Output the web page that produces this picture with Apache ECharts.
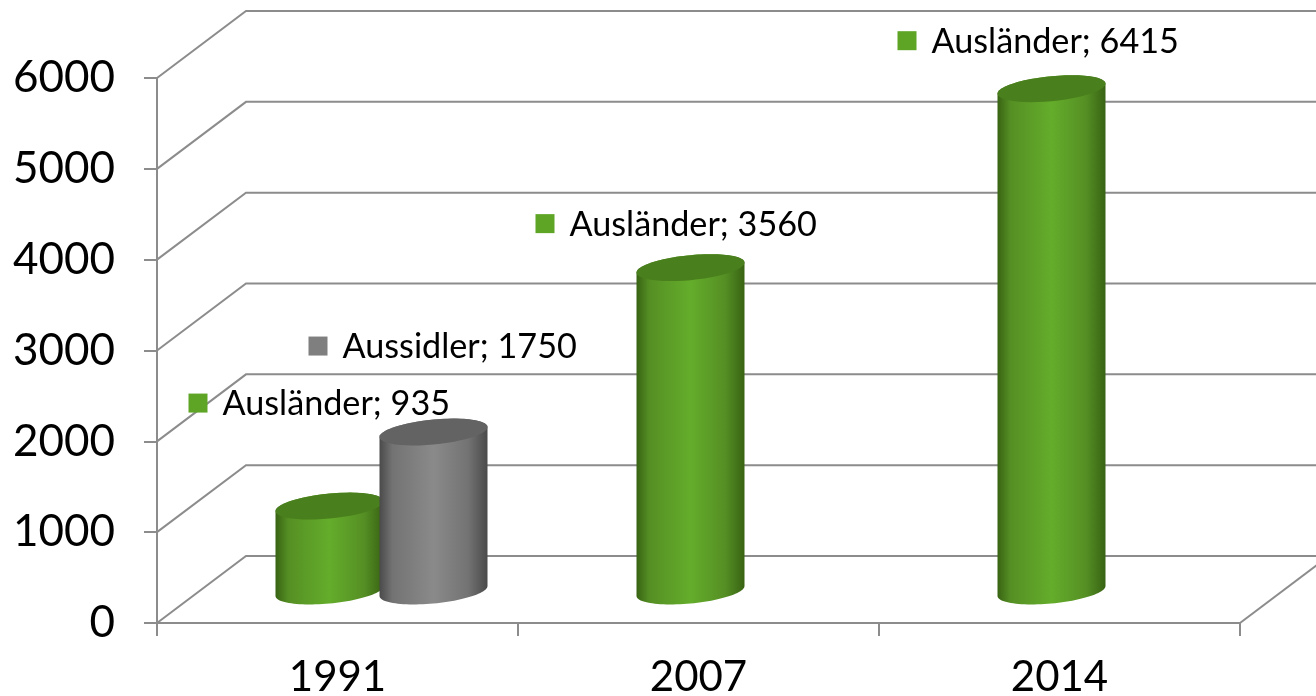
<!DOCTYPE html>
<html><head><meta charset="utf-8">
<style>html,body{margin:0;padding:0;background:#fff}#c{width:1316px;height:696px}</style>
<script src="https://cdn.jsdelivr.net/npm/echarts@6/dist/echarts.min.js"></script>
</head><body><div id="c"></div>
<script>
const categories = ['1991', '2007', '2014'];
const yTicks = [0, 1000, 2000, 3000, 4000, 5000, 6000];
// Values printed on the labels
const auslaenderValues = [935, 3560, 6415];
const aussiedlerValues = [1750, null, null];
// Column heights (the 2014 column stands lower than its printed value)
const auslaenderHeights = [935, 3560, 5530];
const aussiedlerHeights = [1750, null, null];

const FONT = 'Lato';
const AXIS = '#8c8c8c';
const DEPTH_X = 89, DEPTH_Y = -67;
const BAR_A = 54, BAR_B = 12.5, BAR_S = 5, BAR_DEPTH = -32;

function ellipsePts(cx, cy, from, to) {
  const pts = [];
  for (let i = 0; i <= 48; i++) {
    const t = from + (to - from) * i / 48;
    pts.push([cx + BAR_A * Math.cos(t), cy + BAR_B * Math.sin(t) - BAR_S * Math.cos(t)]);
  }
  return pts;
}
function cylinderSeries(name, heights, values, xOffset, look, labelOffsets) {
  return {
    type: 'custom', name, coordinateSystem: 'cartesian2d', clip: false, z: 3, silent: true,
    encode: { x: 0, y: 1 },
    data: categories.map((c, i) => [i, heights[i], values[i]]).filter(d => d[1] != null),
    renderItem(params, api) {
      const i = api.value(0), h = api.value(1), v = api.value(2);
      const base = api.coord([i, 0]), top = api.coord([i, h]);
      const cx = base[0] + xOffset;
      const by = base[1] + BAR_DEPTH, ty = top[1] + BAR_DEPTH;
      const side = ellipsePts(cx, by, 0, Math.PI).concat(ellipsePts(cx, ty, Math.PI, 2 * Math.PI));
      const cap = ellipsePts(cx, ty, 0, 2 * Math.PI);
      const off = labelOffsets[i];
      const sx = cx + off[0], sy = ty + off[1];
      return { type: 'group', children: [
        { type: 'polygon', shape: { points: side }, style: { fill: new echarts.graphic.LinearGradient(0, 0, 1, 0, [
            { offset: 0, color: look.edge }, { offset: 0.12, color: look.mid }, { offset: 0.5, color: look.light },
            { offset: 0.82, color: look.mid }, { offset: 1, color: look.edge }]) } },
        { type: 'polygon', shape: { points: cap }, style: { fill: look.cap } },
        { type: 'rect', shape: { x: sx, y: sy - 9.5, width: 19, height: 19 }, style: { fill: look.swatch } },
        { type: 'text', x: sx + 34, y: sy + 1, style: { text: name + '; ' + v, font: '34.2px ' + FONT, fill: '#000', textVerticalAlign: 'middle', textAlign: 'left' } }
      ] };
    }
  };
}
const wall = {
  type: 'custom', name: 'wall', coordinateSystem: 'cartesian2d', clip: false, z: 1, silent: true,
  encode: { y: 1 }, data: yTicks.map(t => [0, t]),
  renderItem(params, api) {
    const y = api.coord([0, api.value(1)])[1];
    const x0 = params.coordSys.x, x1 = x0 + params.coordSys.width;
    const stroke = { stroke: AXIS, lineWidth: 2, fill: 'none' };
    const kids = [
      { type: 'polyline', shape: { points: [[x0, y], [x0 + DEPTH_X, y + DEPTH_Y], [x1 + DEPTH_X, y + DEPTH_Y]] }, style: stroke }
    ];
    if (api.value(1) === 0) kids.push({ type: 'line', shape: { x1: x1, y1: y, x2: x1 + DEPTH_X, y2: y + DEPTH_Y }, style: stroke });
    return { type: 'group', children: kids };
  }
};
const chart = echarts.init(document.getElementById('c'));
chart.setOption({
  animation: false, backgroundColor: '#fff',
  grid: { left: 157, right: 76, top: 78, bottom: 73, outerBoundsMode: 'none' },
  xAxis: { type: 'category', data: categories, z: 2,
    axisLine: { lineStyle: { color: AXIS, width: 2 } },
    axisTick: { show: true, length: 13, lineStyle: { color: AXIS, width: 2 }, alignWithLabel: false },
    axisLabel: { fontFamily: FONT, fontSize: 42, color: '#000', margin: 33 } },
  yAxis: { type: 'value', min: 0, max: 6000, interval: 1000, z: 2,
    axisLine: { show: true, lineStyle: { color: AXIS, width: 2 } },
    axisTick: { show: true, length: 13, lineStyle: { color: AXIS, width: 2 } },
    splitLine: { show: false },
    axisLabel: { fontFamily: FONT, fontSize: 44, color: '#000', margin: 42, formatter: v => String(v) } },
  series: [
    wall,
    cylinderSeries('Ausländer', auslaenderHeights, auslaenderValues, -8,
      { edge: '#386313', mid: '#558f24', light: '#64ad2b', cap: '#4a7f1d', swatch: '#5ea425' },
      [[-141, -103], [-155, -44], [-154, -48]]),
    cylinderSeries('Aussidler', aussiedlerHeights, aussiedlerValues, 96,
      { edge: '#4a4a4a', mid: '#737373', light: '#8a8a8a', cap: '#636363', swatch: '#7f7f7f' },
      [[-125, -86], [0, 0], [0, 0]])
  ]
});
</script></body></html>
